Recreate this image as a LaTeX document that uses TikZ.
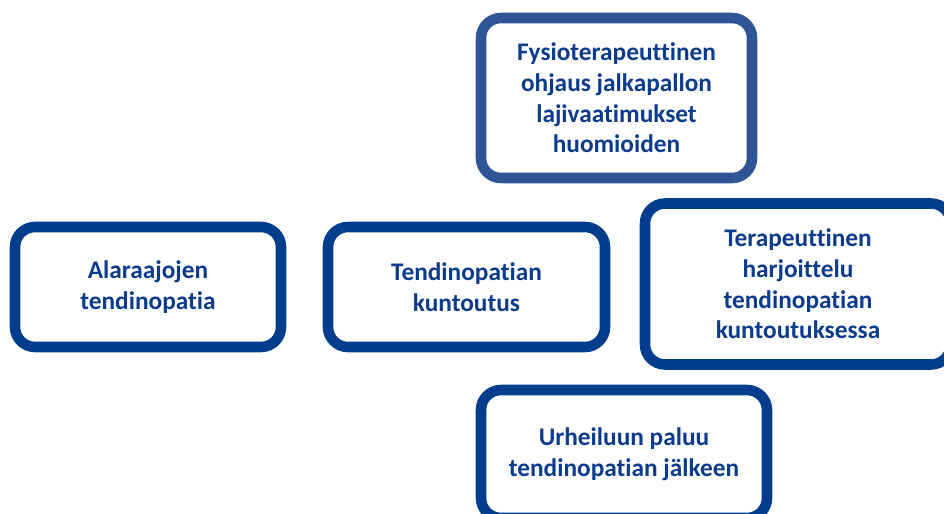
\documentclass[tikz,border=0pt]{standalone}
\usepackage{fontspec}
\setmainfont[Ligatures=NoCommon]{Carlito}
\definecolor{darkblue}{RGB}{0,61,141}
\definecolor{lightblue}{RGB}{47,85,151}
\definecolor{textblue}{RGB}{11,60,140}

\begin{document}
\begin{tikzpicture}[x=0.75pt,y=-0.75pt,
  box/.style={draw=darkblue, line width=7.9pt, fill=white, rounded corners=15pt,
    align=center, text=textblue, font=\bfseries\fontsize{19}{23}\selectfont, inner sep=0pt}]
  \useasboundingbox (0,0) rectangle (944,513);
  \clip (0,0) rectangle (944,513);
  \node[box, draw=lightblue, minimum width=271*0.75pt, minimum height=160*0.75pt] (guidance) at (616.5,98)
    {Fysioterapeuttinen\\ohjaus jalkapallon\\lajivaatimukset\\huomioiden};
  \node[box, minimum width=266*0.75pt, minimum height=120*0.75pt] (tendinopathy) at (148,287)
    {Alaraajojen\\tendinopatia};
  \node[box, minimum width=277*0.75pt, minimum height=120*0.75pt] (rehab) at (466.5,287)
    {Tendinopatian\\kuntoutus};
  \node[box, minimum width=306*0.75pt, minimum height=161*0.75pt] (exercise) at (798,284)
    {Terapeuttinen\\harjoittelu\\tendinopatian\\kuntoutuksessa};
  \node[box, minimum width=286*0.75pt, minimum height=128*0.75pt] (returnsport) at (624,454)
    {Urheiluun paluu\\tendinopatian jälkeen};
\end{tikzpicture}
\end{document}
